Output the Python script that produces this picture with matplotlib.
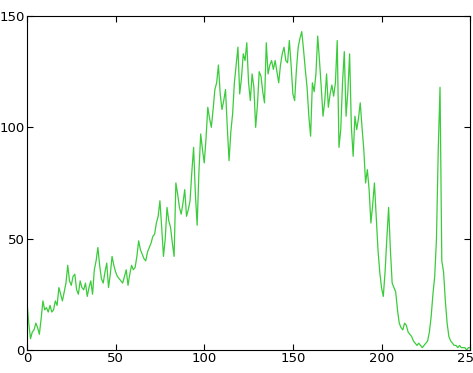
import matplotlib
matplotlib.use("Agg")
import matplotlib.pyplot as plt

# gray-level histogram counts, bins 0..255
counts = [
    22, 12, 5, 8, 9, 12, 10, 7, 14, 22,
    18, 19, 17, 20, 17, 18, 22, 20, 28, 25,
    22, 26, 30, 38, 31, 29, 33, 34, 27, 25,
    31, 28, 27, 30, 24, 28, 31, 25, 36, 40,
    46, 38, 32, 30, 35, 39, 28, 34, 42, 38,
    35, 33, 32, 31, 30, 33, 36, 29, 34, 38,
    36, 37, 42, 49, 45, 43, 41, 40, 44, 46,
    48, 51, 52, 57, 60, 67, 55, 42, 50, 64,
    58, 55, 48, 42, 75, 70, 64, 61, 66, 72,
    60, 63, 67, 80, 91, 70, 56, 80, 97, 90,
    84, 95, 109, 104, 100, 108, 117, 120, 128, 115,
    108, 112, 117, 100, 85, 98, 106, 120, 128, 136,
    115, 122, 133, 130, 138, 120, 112, 124, 118, 100,
    110, 125, 123, 116, 111, 138, 124, 128, 130, 126,
    130, 125, 120, 128, 133, 136, 130, 129, 139, 128,
    115, 112, 126, 136, 140, 143, 135, 126, 118, 105,
    96, 120, 116, 124, 141, 130, 118, 105, 112, 124,
    109, 115, 119, 114, 120, 139, 91, 99, 120, 134,
    105, 116, 133, 100, 87, 105, 99, 104, 111, 100,
    90, 75, 81, 72, 57, 65, 75, 60, 45, 35,
    28, 24, 35, 50, 64, 45, 30, 28, 26, 18,
    12, 10, 9, 12, 11, 8, 7, 6, 4, 3,
    2, 3, 2, 1, 2, 3, 4, 8, 15, 25,
    33, 50, 90, 118, 40, 35, 22, 12, 6, 4,
    3, 2, 2, 1, 2, 1, 1, 1, 0, 1,
    1, 3, 1, 0, 0, 0,
]
levels = list(range(len(counts)))
xticks = [0, 50, 100, 150, 200, 250]
yticks = [0, 50, 100, 150]

plt.rcParams['font.family'] = ['Liberation Sans Narrow', 'DejaVu Sans']

fig = plt.figure(figsize=(4.73, 3.73), dpi=100)
ax = fig.add_axes([0.057, 0.062, 0.937, 0.895])
ax.plot(levels, counts, color='#3acc3a', linewidth=0.9)

ax.set_xlim(0, 250)
ax.set_ylim(0, 150)
ax.set_xticks(xticks)
ax.set_yticks(yticks)
ax.tick_params(direction='in', top=True, right=True, length=4,
               labelsize=9.5, pad=1.5)
for s in ax.spines.values():
    s.set_linewidth(0.8)

fig.savefig("out.png", dpi=100)
